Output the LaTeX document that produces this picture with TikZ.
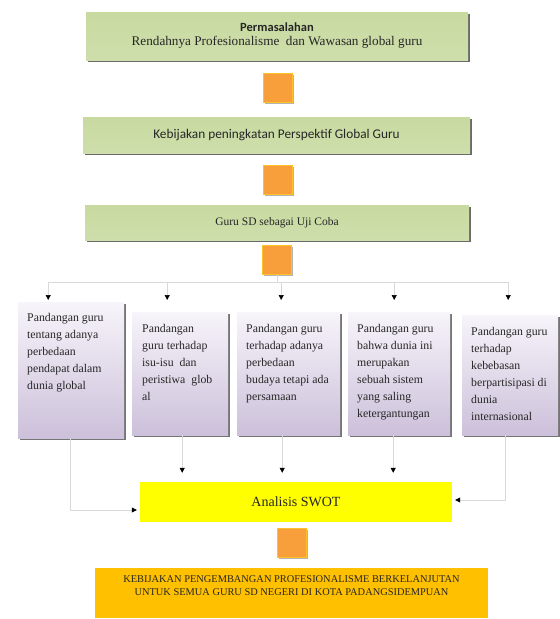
\documentclass[tikz,border=0pt]{standalone}
\usepackage{fontspec}
\setmainfont{Liberation Serif}
\newfontfamily\calibri{Carlito}
\usetikzlibrary{arrows.meta,shadows,calc}

\definecolor{greenTop}{RGB}{200,218,160}
\definecolor{greenMid}{RGB}{228,237,210}
\definecolor{greenBot}{RGB}{206,222,172}
\definecolor{lilacTop}{RGB}{247,244,250}
\definecolor{lilacBot}{RGB}{204,192,218}
\definecolor{stepOrange}{RGB}{248,158,58}
\definecolor{stepRim}{RGB}{255,192,40}
\definecolor{swotYellow}{RGB}{255,255,0}
\definecolor{policyGold}{RGB}{255,192,0}

% top-aligned text inside a fixed box
\newcommand{\viewtext}[3]{\parbox[c][#2][t]{#1}{\raggedright #3}}

\begin{document}
\begin{tikzpicture}[x=1pt, y=-1pt,
    every node/.style={font=\fontsize{11.8}{17}\selectfont, text=black!85},
    greenbox/.style={rectangle, top color=greenTop, middle color=greenMid, bottom color=greenBot,
        drop shadow={shadow xshift=1.6pt, shadow yshift=-1.6pt, fill=black!65, opacity=.9}},
    viewbox/.style={rectangle, top color=lilacTop, bottom color=lilacBot, inner xsep=9pt, inner ysep=12pt,
        drop shadow={shadow xshift=1.6pt, shadow yshift=-1.6pt, fill=black!60, opacity=.9}},
    stepbox/.style={rectangle, fill=stepOrange, draw=stepRim, line width=1pt, minimum size=29pt, inner sep=0pt,
        drop shadow={shadow xshift=1pt, shadow yshift=-1pt, fill=black!50, opacity=.6}},
    thin line/.style={draw=black!15, line width=0.6pt},
    flow/.style={thin line, -{Triangle[width=5pt,length=5pt,color=black]}}]

    \useasboundingbox (0,0) rectangle (560,619);

    % Problem statement and the two steps below it
    \node[greenbox, minimum width=382pt, minimum height=48pt, align=center] (problem) at (277,36)
        {{\calibri\bfseries\fontsize{12.5}{18}\selectfont Permasalahan}\\[-3pt]
         {\fontsize{13.2}{16}\selectfont Rendahnya Profesionalisme\ \ dan Wawasan global guru}};
    \node[stepbox] (s1) at (278,88) {};
    \node[greenbox, minimum width=387pt, minimum height=36pt] (policy) at (276.5,135)
        {\calibri\fontsize{13.3}{15}\selectfont Kebijakan peningkatan Perspektif Global Guru};
    \node[stepbox] (s2) at (278,180) {};
    \node[greenbox, minimum width=384pt, minimum height=35pt] (trial) at (277,222.5)
        {\fontsize{11.5}{14}\selectfont Guru SD sebagai Uji Coba};
    \node[stepbox] (s3) at (277,260) {};

    % Five views of the teachers
    \node[viewbox, anchor=north west, inner ysep=11pt] (v1) at (18,302)
        {\viewtext{88pt}{114pt}{Pandangan guru\\ tentang adanya\\ perbedaan\\ pendapat dalam\\ dunia global}};
    \node[viewbox, anchor=north west, inner xsep=10pt] (v2) at (132,312)
        {\viewtext{76pt}{99pt}{Pandangan\\ guru terhadap\\ isu-isu\ \ dan\\ peristiwa\ \ glob\\ al}};
    \node[viewbox, anchor=north west] (v3) at (237,312)
        {\viewtext{85pt}{99pt}{Pandangan guru\\ terhadap adanya\\ perbedaan\\ budaya tetapi ada\\ persamaan}};
    \node[viewbox, anchor=north west] (v4) at (348,312)
        {\viewtext{84pt}{99pt}{Pandangan guru\\ bahwa dunia ini\\ merupakan\\ sebuah sistem\\ yang saling\\ ketergantungan}};
    \node[viewbox, anchor=north west] (v5) at (462,315)
        {\viewtext{78pt}{96pt}{Pandangan guru\\ terhadap\\ kebebasan\\ berpartisipasi di\\ dunia\\ internasional}};

    % SWOT and the final policy
    \node[rectangle, fill=swotYellow, minimum width=312pt, minimum height=40pt] (swot) at (296,502)
        {\fontsize{14}{16}\selectfont Analisis SWOT};
    \node[stepbox] (s4) at (292,543) {};
    \node[rectangle, fill=policyGold, minimum width=393pt, minimum height=50pt, inner ysep=8pt] (final) at (291.5,593)
        {\parbox[c][34pt][t]{385pt}{\centering\fontsize{10.4}{13}\selectfont
         KEBIJAKAN PENGEMBANGAN PROFESIONALISME BERKELANJUTAN\\
         UNTUK SEMUA GURU SD NEGERI DI KOTA PADANGSIDEMPUAN}};

    % Split from the trial step to the five views
    \coordinate (split) at (277,282);
    \draw[thin line] (s3) -- (split);
    \foreach \v/\dx/\gap in {v1/-23/2, v2/-13/12, v3/-7.5/12, v4/-5/12, v5/-2/15}
        \draw[flow, shorten >=\gap pt] (split) -| ([xshift=\dx pt]\v.north);

    % Views into the SWOT analysis
    \draw[flow, shorten >=3pt] ([xshift=-1pt]v1.south) |- ($(swot.west)+(0,8)$);
    \foreach \v/\dx in {v2/2, v3/-6.5, v4/-6}
        \draw[flow, shorten >=9pt] ([xshift=\dx pt]\v.south) -- ([xshift=\dx pt]\v.south |- swot.north);
    \draw[flow, shorten >=3pt] ([xshift=-5pt]v5.south) |- ($(swot.east)+(0,-2)$);
\end{tikzpicture}
\end{document}
